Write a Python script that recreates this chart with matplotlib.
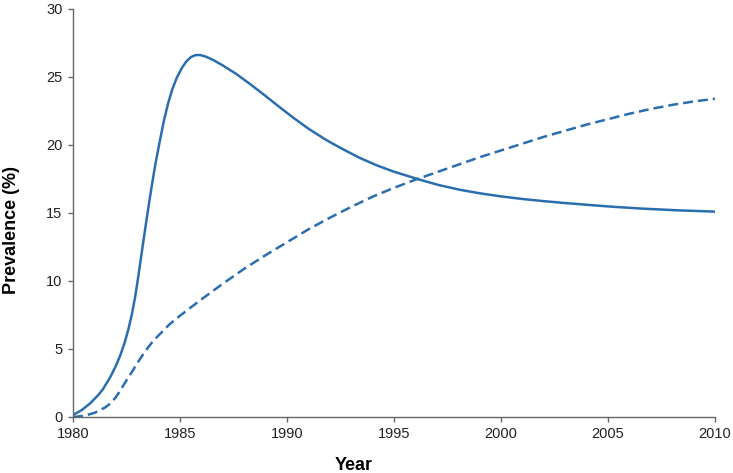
import matplotlib
matplotlib.use("Agg")
import matplotlib.pyplot as plt

plt.rcParams['font.family'] = ['Liberation Sans', 'DejaVu Sans']

# Solid curve
solid_years = [1980.0, 1980.4, 1980.8, 1981.2, 1981.4, 1981.73, 1982.0, 1982.2, 1982.4,
               1982.58, 1982.75, 1982.9, 1983.0, 1983.13, 1983.29, 1983.45, 1983.6,
               1983.68, 1983.85, 1984.07, 1984.25, 1984.45, 1984.65, 1984.85, 1985.1,
               1985.3, 1985.5, 1985.7, 1985.93, 1986.2, 1986.55, 1987.0, 1987.65,
               1988.3, 1989.0, 1989.6, 1990.3, 1991.0, 1991.85, 1992.6, 1993.4,
               1994.2, 1994.97, 1996.2, 1997.1, 1998.1, 1999.0, 2000.0, 2001.0,
               2002.0, 2003.0, 2004.2, 2005.3, 2006.5, 2008.2, 2010.0]
solid_vals = [0.15, 0.5, 1.0, 1.65, 2.05, 2.9, 3.75, 4.5, 5.4,
              6.4, 7.55, 8.8, 9.8, 11.2, 12.95, 14.65, 16.2,
              17.0, 18.6, 20.4, 21.8, 23.1, 24.15, 24.95, 25.7,
              26.15, 26.45, 26.6, 26.62, 26.5, 26.25, 25.85, 25.2,
              24.45, 23.6, 22.85, 22.0, 21.2, 20.35, 19.7, 19.05,
              18.5, 18.05, 17.45, 17.05, 16.7, 16.45, 16.22, 16.03,
              15.87, 15.73, 15.58, 15.45, 15.33, 15.2, 15.1]

# Dashed curve
dashed_years = [1980.0, 1980.5, 1981.0, 1981.5, 1981.75, 1982.0, 1982.25, 1982.5, 1982.75,
                1983.0, 1983.25, 1983.5, 1983.75, 1984.0, 1984.5, 1985.0, 1986.0,
                1987.0, 1988.0, 1989.0, 1990.0, 1991.0, 1992.0, 1993.0, 1994.0,
                1995.0, 1996.0, 1997.0, 1998.0, 1999.0, 2000.0, 2001.0, 2002.0,
                2003.0, 2004.0, 2005.0, 2006.0, 2007.0, 2008.0, 2009.0, 2010.0]
dashed_vals = [0.0, 0.08, 0.3, 0.7, 1.0, 1.45, 2.05, 2.7, 3.3,
               3.95, 4.55, 5.1, 5.6, 6.0, 6.8, 7.45, 8.65,
               9.8, 10.9, 11.9, 12.85, 13.8, 14.65, 15.45, 16.2,
               16.85, 17.45, 18.0, 18.55, 19.1, 19.6, 20.1, 20.6,
               21.05, 21.5, 21.9, 22.3, 22.65, 22.95, 23.2, 23.4]

xticks = [1980, 1985, 1990, 1995, 2000, 2005, 2010]
yticks = [0, 5, 10, 15, 20, 25, 30]

color = '#2a6eb0'

fig = plt.figure(figsize=(7.33, 4.73), dpi=100)
ax = fig.add_axes([0.0996, 0.1184, 0.8759, 0.8626])

ax.plot(solid_years, solid_vals, color=color, lw=1.8,
        solid_capstyle='butt', solid_joinstyle='round')
ln, = ax.plot(dashed_years, dashed_vals, color=color, lw=1.8,
              dash_capstyle='butt', dash_joinstyle='round')
ln.set_dashes((4, 2))

ax.set_xlim(1980, 2010)
ax.set_ylim(0, 30)
ax.set_xticks(xticks)
ax.set_yticks(yticks)

for s in ['top', 'right']:
    ax.spines[s].set_visible(False)
for s in ['left', 'bottom']:
    ax.spines[s].set_color('#666666')
    ax.spines[s].set_linewidth(1.0)
ax.tick_params(direction='out', length=3.5, width=1.0, color='#666666',
               labelsize=10.5, labelcolor='#222222')
ax.tick_params(axis='x', pad=4)
ax.tick_params(axis='y', pad=4)

ax.set_xlabel('Year', fontsize=13, fontweight='bold')
ax.set_ylabel('Prevalence (%)', fontsize=13, fontweight='bold')
ax.xaxis.set_label_coords(0.4377, -0.098)
ax.yaxis.set_label_coords(-0.0826, 0.458)

fig.savefig('out.png', dpi=100)
